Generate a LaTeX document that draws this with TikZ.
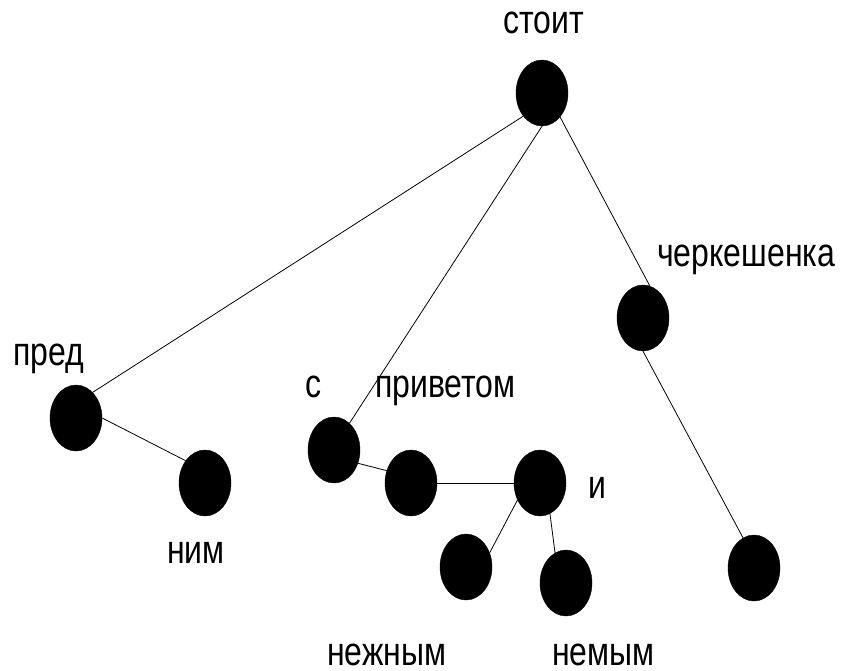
\documentclass[tikz,border=0pt]{standalone}
\usepackage{fontspec}
\setmainfont{Liberation Sans}
\usetikzlibrary{shapes.geometric}
\newcommand\lbltext[1]{\scalebox{1}[1.25]{#1}}
\tikzset{
  dot/.style={ellipse, fill=black, draw=black, minimum width=52pt, minimum height=66pt, inner sep=0pt},
  word/.style={font=\fontsize{32}{38}\selectfont, inner sep=0pt, anchor=base west, text=black},
  link/.style={draw=black, line width=0.8pt}
}
\begin{document}
\begin{tikzpicture}[x=1pt,y=-1pt]
\useasboundingbox (0,0) rectangle (842,670);
% nodes
\node[dot] (st) at (542,93) {};
\node[dot] (pr) at (76,418) {};
\node[dot] (nim) at (205,483) {};
\node[dot] (s) at (334,450) {};
\node[dot] (priv) at (411,483) {};
\node[dot] (i) at (540,483) {};
\node[dot] (nezh) at (466,567) {};
\node[dot] (nem) at (566,583) {};
\node[dot] (cher) at (643,318) {};
\node[dot] (last) at (754,568) {};
% labels
\node[word] (lst) at (503,33) {\lbltext{стоит}};
\node[word] (lpr) at (13,365) {\lbltext{пред}};
\node[word] (lnim) at (167,563) {\lbltext{ним}};
\node[word] (ls) at (305,397) {\lbltext{с}};
\node[word] (lpriv) at (375,397) {\lbltext{приветом}};
\node[word] (li) at (588,498) {\lbltext{и}};
\node[word] (lnezh) at (327,665) {\lbltext{нежным}};
\node[word] (lnem) at (552,665) {\lbltext{немым}};
\node[word] (lcher) at (657,266) {\lbltext{черкешенка}};
% connectors
\draw[link] (st.231) -- (pr.57);
\draw[link] (st.south) -- (s.60);
\draw[link] (st.307) -- (cher.78);
\draw[link] (cher.south) -- (last.110);
\draw[link] (pr.east) -- (nim.131);
\draw[link] (s.331) -- (priv.153);
\draw[link] (priv.east) -- (i.west);
\draw[link] (i.217) -- (nezh.31);
\draw[link] (i.288) -- (nem.110);
\end{tikzpicture}
\end{document}
